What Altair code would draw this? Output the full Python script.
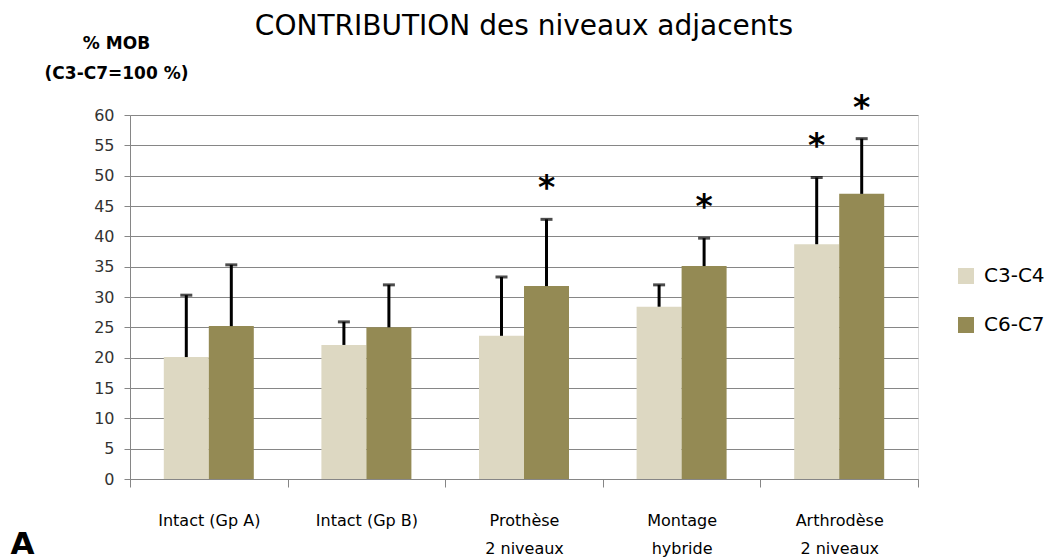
import altair as alt
import pandas as pd

# Groups (x categories), with "\n" marking the line break in the axis label
groups = ["Intact (Gp A)", "Intact (Gp B)", "Prothèse\n2 niveaux",
          "Montage\nhybride", "Arthrodèse\n2 niveaux"]
levels = ["C3-C4", "C6-C7"]

# Mean contribution (% of C3-C7 mobility) and standard deviation per level
c3c4_mean = [20.1, 22.1, 23.6, 28.4, 38.7]
c3c4_sd = [10.2, 3.8, 9.7, 3.6, 11.0]
c6c7_mean = [25.2, 25.0, 31.8, 35.1, 47.0]
c6c7_sd = [10.1, 7.0, 11.0, 4.6, 9.1]

# Significance flags (asterisk above the error bar)
c3c4_sig = [False, False, False, False, True]
c6c7_sig = [False, False, True, True, True]

# Y axis ticks
y_ticks = [0, 5, 10, 15, 20, 25, 30, 35, 40, 45, 50, 55, 60]

rows = []
for i, g in enumerate(groups):
    for lvl, m, s, sig in ((levels[0], c3c4_mean[i], c3c4_sd[i], c3c4_sig[i]),
                           (levels[1], c6c7_mean[i], c6c7_sd[i], c6c7_sig[i])):
        rows.append({"groupe": g, "niveau": lvl, "moy": m,
                     "haut": m + s, "sig": sig})
df = pd.DataFrame(rows)

FONT = "DejaVu Sans"
colors = ["#DDD8C2", "#948A54"]

x_axis = alt.Axis(
    title="A", titleFont=FONT, titleFontSize=31, titleFontWeight="bold",
    titleColor="#000000", titleAngle=0, titleAlign="left",
    titleBaseline="alphabetic", titleX=-120, titleY=74,
    labelExpr="split(datum.label, '\\n')", labelAngle=0,
    labelFont=FONT, labelFontSize=16, labelColor="#000000",
    labelLineHeight=28, labelPadding=33, labelBaseline="middle",
    tickBand="extent", tickSize=8, tickColor="#868686",
    domainColor="#868686", grid=False,
)
y_axis = alt.Axis(
    values=y_ticks, labelOverlap=False,
    title=["% MOB", "(C3-C7=100 %)"], titleFont=FONT,
    titleFontSize=17, titleFontWeight="bold", titleColor="#000000",
    titleAngle=0, titleAlign="center", titleBaseline="alphabetic",
    titleX=-14, titleY=-67, titleLineHeight=30,
    labelFont=FONT, labelFontSize=16, labelColor="#333333",
    labelPadding=10, tickSize=6, tickColor="#868686",
    domainColor="#868686", gridColor="#868686", gridWidth=1,
)

x_enc = alt.X("groupe:N", sort=groups,
              scale=alt.Scale(paddingInner=0, paddingOuter=0), axis=x_axis)
xo_enc = alt.XOffset("niveau:N", sort=levels,
                     scale=alt.Scale(paddingInner=0, paddingOuter=0.751))
y_scale = alt.Scale(domain=[0, 60], nice=False)

bars = alt.Chart(df).mark_bar(size=45).encode(
    x=x_enc,
    xOffset=xo_enc,
    y=alt.Y("moy:Q", scale=y_scale, axis=y_axis),
    color=alt.Color(
        "niveau:N", sort=levels,
        scale=alt.Scale(domain=levels, range=colors),
        legend=alt.Legend(
            title=None, orient="none", legendX=826, legendY=151,
            symbolType="square", symbolSize=256, symbolStrokeWidth=0,
            labelFont=FONT, labelFontSize=20, labelColor="#000000",
            labelOffset=8, rowPadding=29, padding=0,
        ),
    ),
)

# Error bars: vertical rule from the mean up to mean + SD, then a cap
err = alt.Chart(df).mark_rule(color="#000000", strokeWidth=3).encode(
    x=x_enc,
    xOffset=xo_enc,
    y=alt.Y("moy:Q", scale=y_scale, axis=y_axis),
    y2="haut:Q",
)

caps = alt.Chart(df).mark_tick(color="#000000", size=12, thickness=3,
                               orient="horizontal").encode(
    x=x_enc,
    xOffset=xo_enc,
    y=alt.Y("haut:Q", scale=y_scale, axis=y_axis),
)

stars = alt.Chart(df).transform_filter("datum.sig").mark_text(
    text="*", font=FONT, fontSize=33, fontWeight="bold", color="#000000",
    baseline="middle", dy=-30, clip=False,
).encode(
    x=x_enc,
    xOffset=xo_enc,
    y=alt.Y("haut:Q", scale=y_scale, axis=y_axis),
)

chart = alt.layer(bars, err, caps, stars).properties(
    width=788, height=364,
    title=alt.TitleParams(
        "CONTRIBUTION des niveaux adjacents", font=FONT, fontSize=28,
        fontWeight="normal", color="#000000", anchor="middle", offset=8,
        dy=15,
    ),
    padding={"left": 130, "top": 115, "right": 133, "bottom": 81},
    autosize=alt.AutoSizeParams(type="none"),
).configure_view(strokeWidth=0).configure(background="#ffffff")

chart.save("out.html", embed_options={"renderer": "svg", "actions": False})
